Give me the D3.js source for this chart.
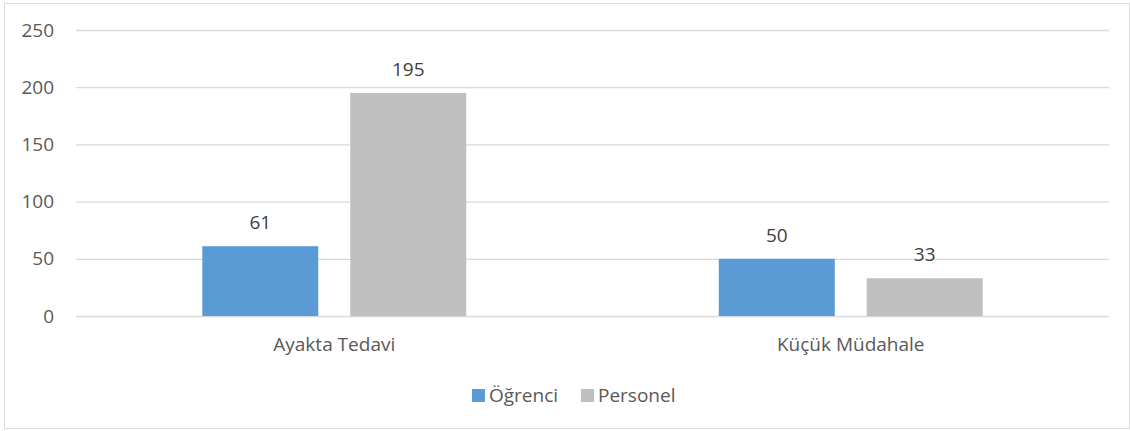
<!DOCTYPE html>
<html lang="tr">
<head>
<meta charset="UTF-8">
<script src="https://d3js.org/d3.v7.min.js"></script>
<style>
  body { margin: 0; background: #fff; font-family: "Open Sans", sans-serif; }
</style>
</head>
<body>
<div id="chart"></div>
<script>
// data
const categories = ["Ayakta Tedavi", "Küçük Müdahale"];
const seriesNames = ["Öğrenci", "Personel"];
const ogrenci = [61, 50];
const personel = [195, 33];
const yTicks = [0, 50, 100, 150, 200, 250];
const colors = ["#5B9BD5", "#BFBFBF"];

const W = 1130, H = 431;
const margin = { top: 30, right: 21, bottom: 115, left: 76 };
const fontSize = "19px";

const svg = d3.select("#chart").append("svg")
    .attr("width", W)
    .attr("height", H);

// outer frame
svg.append("rect")
    .attr("x", 4.5).attr("y", 3.5)
    .attr("width", W - 5).attr("height", H - 6)
    .attr("fill", "#fff")
    .attr("stroke", "#D9D9D9");

const y = d3.scaleLinear().domain([0, 250]).range([H - margin.bottom, margin.top]);
const x0 = d3.scaleBand().domain(categories)
    .range([margin.left, W - margin.right])
    .paddingInner(0.489).paddingOuter(0.2445);
const x1 = d3.scaleBand().domain(seriesNames)
    .range([0, x0.bandwidth()])
    .paddingInner(0.216);

// gridlines + y labels
const yAxis = svg.append("g")
    .attr("transform", `translate(${margin.left},0)`)
    .call(d3.axisLeft(y).tickValues(yTicks).tickSize(-(W - margin.left - margin.right)).tickPadding(22));
yAxis.select(".domain").remove();
yAxis.selectAll("line").attr("stroke", "#D9D9D9").attr("stroke-width", 1.3);
yAxis.selectAll("text")
    .attr("fill", "#595959")
    .style("font-size", fontSize)
    .style("font-family", "'Open Sans', sans-serif");

// bars
const rows = categories.map((c, i) => ({ cat: c, values: [ogrenci[i], personel[i]] }));

const groups = svg.append("g").selectAll("g")
    .data(rows)
    .join("g")
    .attr("transform", d => `translate(${x0(d.cat)},0)`);

groups.selectAll("rect")
    .data(d => d.values.map((v, j) => ({ key: seriesNames[j], v, j })))
    .join("rect")
    .attr("x", d => x1(d.key))
    .attr("y", d => y(d.v))
    .attr("width", x1.bandwidth())
    .attr("height", d => y(0) - y(d.v))
    .attr("fill", d => colors[d.j]);

groups.selectAll("text")
    .data(d => d.values.map((v, j) => ({ key: seriesNames[j], v, j })))
    .join("text")
    .attr("x", d => x1(d.key) + x1.bandwidth() / 2)
    .attr("y", d => y(d.v) - 17)
    .attr("text-anchor", "middle")
    .attr("fill", "#404040")
    .style("font-size", fontSize)
    .text(d => d.v);

// x axis labels
const xAxis = svg.append("g")
    .attr("transform", `translate(0,${H - margin.bottom})`)
    .call(d3.axisBottom(x0).tickSize(0).tickPadding(22));
xAxis.select(".domain").remove();
xAxis.selectAll("text")
    .attr("fill", "#595959")
    .style("font-size", fontSize)
    .style("font-family", "'Open Sans', sans-serif");

// legend
const legendX = [472, 581];
const legend = svg.append("g").selectAll("g")
    .data(seriesNames)
    .join("g")
    .attr("transform", (d, i) => `translate(${legendX[i]},389)`);
legend.append("rect")
    .attr("width", 13).attr("height", 13)
    .attr("fill", (d, i) => colors[i]);
legend.append("text")
    .attr("x", 17).attr("y", 13)
    .attr("fill", "#595959")
    .style("font-size", fontSize)
    .text(d => d);
</script>
</body>
</html>
